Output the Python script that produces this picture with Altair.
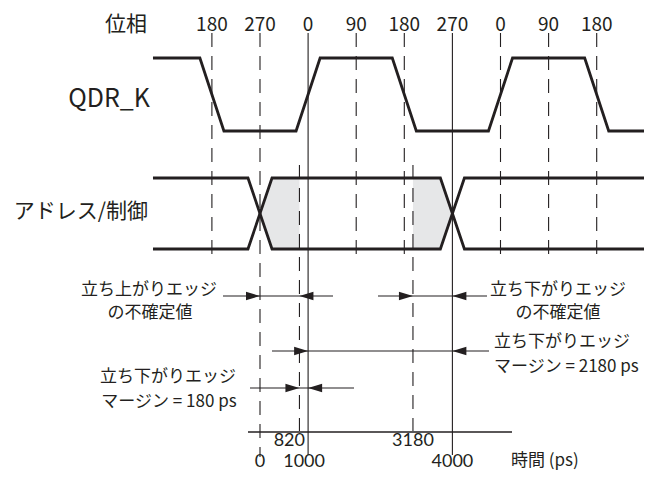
import altair as alt
import pandas as pd

INK = "#231f20"
SHADE = "#e6e7e8"
FONT = "Noto Sans CJK JP"
NUM_FONT = "Lato"

# ---------------- data ----------------
# phase grid (clock phase of QDR_K vs time in ps)
phase_times = [-1000, 0, 1000, 2000, 3000, 4000, 5000, 6000, 7000]
phase_labels = ["180", "270", "0", "90", "180", "270", "0", "90", "180"]
phase_solid = [False, False, True, False, False, True, False, False, False]
phase_line_end = [262, 457, 455, 262, 262, 455, 262, 262, 262]

# uncertainty window boundaries (ps)
marker_times = [820, 3180]

# QDR_K clock waveform (ps, level)
qdr_times = [-2225, -1250, -750, 750, 1250, 2750, 3250, 4750, 5250, 6750, 7250, 8150]
qdr_levels = [1, 1, 0, 0, 1, 1, 0, 0, 1, 1, 0, 0]

# address/control bus waveform (two crossing lines)
addr_times = [-2225, -250, 250, 3750, 4250, 8150]
addr_a_levels = [1, 1, 0, 0, 1, 1]
addr_b_levels = [0, 0, 1, 1, 0, 0]

# shaded uncertain regions
shade_left_times = [0, 250, 820]
shade_left_open = [0, 1, 1]
shade_right_times = [3180, 3750, 4000]
shade_right_open = [1, 1, 0]

# time axis labels
time_labels = ["820", "3180", "0", "1000", "4000"]
time_label_t = [1000, 3180, 0, 1000, 4000]

# ---------------- layout ----------------
PX_PER_PS = 0.0481          # 48.1 px per 1000 ps
T0_X = 260                  # page x of t = 0
W, H = 636, 466


def t_of(px):
    return (px - T0_X) / PX_PER_PS


T_MIN, T_MAX = t_of(8), t_of(8 + W)
Y_DOM = [8, 8 + H]

QDR_HIGH, QDR_LOW = 58, 131
ADDR_HIGH, ADDR_LOW = 178, 249
ADDR_MID = (ADDR_HIGH + ADDR_LOW) / 2


def X(f):
    return alt.X(f, type="quantitative", axis=None,
                 scale=alt.Scale(domain=[T_MIN, T_MAX], nice=False, zero=False))


def Y(f):
    return alt.Y(f, type="quantitative", axis=None,
                 scale=alt.Scale(domain=Y_DOM, nice=False, zero=False, reverse=True))


# waveforms
wave_rows = []
for i, (t, l) in enumerate(zip(qdr_times, qdr_levels)):
    wave_rows.append({"s": "qdr", "t": t, "y": QDR_HIGH if l else QDR_LOW, "o": i})
for i, (t, l) in enumerate(zip(addr_times, addr_a_levels)):
    wave_rows.append({"s": "a", "t": t, "y": ADDR_HIGH if l else ADDR_LOW, "o": i})
for i, (t, l) in enumerate(zip(addr_times, addr_b_levels)):
    wave_rows.append({"s": "b", "t": t, "y": ADDR_HIGH if l else ADDR_LOW, "o": i})
wave_df = pd.DataFrame(wave_rows)

shade_rows = []
for g, ts, op in (("L", shade_left_times, shade_left_open), ("R", shade_right_times, shade_right_open)):
    for t, o in zip(ts, op):
        shade_rows.append({"g": g, "t": t,
                           "y1": ADDR_HIGH if o else ADDR_MID,
                           "y2": ADDR_LOW if o else ADDR_MID})
shade_df = pd.DataFrame(shade_rows)

phase_df = pd.DataFrame({"t": phase_times, "label": phase_labels, "solid": phase_solid,
                         "y1": [33] * len(phase_times), "y2": phase_line_end})
marker_df = pd.DataFrame({"t": marker_times, "y1": [165, 165], "y2": [431, 431]})
axis_df = pd.DataFrame({"t1": [t_of(248)], "t2": [t_of(512)], "y": [432]})

# dimension arrows: y, line start, line end, right-pointing tip, left-pointing tip
arrow_rows = [
    (296, t_of(223), t_of(333), 0, 820),
    (296, t_of(378), t_of(487), 3180, 4000),
    (351, t_of(272), t_of(489), 1000, 4000),
    (388, t_of(250), t_of(354), 820, 1000),
]
HEAD = 14  # px
head_off = HEAD / 2 / PX_PER_PS
arrow_line_df = pd.DataFrame([{"y": r[0], "t1": r[1], "t2": r[2]} for r in arrow_rows])
head_r_df = pd.DataFrame([{"y": r[0], "t": r[3] - head_off} for r in arrow_rows])
head_l_df = pd.DataFrame([{"y": r[0], "t": r[4] + head_off} for r in arrow_rows])

# text
center_txt = [
    ("位相", t_of(126), 25, 21),
    ("立ち上がりエッジ", t_of(149), 290, 17),
    ("の不確定値", t_of(150), 313, 17),
    ("立ち下がりエッジ", t_of(558), 290, 17),
    ("の不確定値", t_of(558), 313, 17),
    ("立ち下がりエッジ", t_of(168), 377, 17),
    ("マージン = 180 ps", t_of(169), 402, 17),
]
for lab, t in zip(phase_labels, phase_times):
    center_txt.append((lab, t, 25, 19))
num_center = []
for lab, t in zip(time_labels[1:], time_label_t[1:]):
    yy = 441 if lab == "3180" else 462
    xx = t if lab != "1000" else t - 4 / PX_PER_PS
    num_center.append((lab, xx, yy, 18))
num_right = [(time_labels[0], t_of(305), 441, 18)]
right_txt = [
    ("QDR_K", t_of(150), 99, 25),
    ("アドレス/制御", t_of(148), 212, 21),
]
left_txt = [
    ("立ち下がりエッジ", t_of(494), 342, 17),
    ("マージン = 2180 ps", t_of(494), 367, 17),
    ("時間 (ps)", t_of(511), 461, 17),
]


def tdf(rows):
    return pd.DataFrame([{"text": r[0], "t": r[1], "y": r[2], "size": r[3]} for r in rows])


# ---------------- layers ----------------
dash_lines = alt.Chart(phase_df[~phase_df.solid]).mark_rule(
    color=INK, strokeWidth=1.1, strokeDash=[14, 9]).encode(x=X("t"), y=Y("y1"), y2="y2")
solid_lines = alt.Chart(phase_df[phase_df.solid]).mark_rule(
    color=INK, strokeWidth=1.1).encode(x=X("t"), y=Y("y1"), y2="y2")
marker_lines = alt.Chart(marker_df).mark_rule(
    color=INK, strokeWidth=1.1, strokeDash=[14, 9]).encode(x=X("t"), y=Y("y1"), y2="y2")
axis_line = alt.Chart(axis_df).mark_rule(color=INK, strokeWidth=1.3).encode(
    x=X("t1"), x2="t2", y=Y("y"))

shade = alt.Chart(shade_df).mark_area(color=SHADE, opacity=1).encode(
    x=X("t"), y=Y("y1"), y2="y2", detail="g:N")

waves = alt.Chart(wave_df).mark_line(color=INK, strokeWidth=2.8, clip=True,
                                     strokeJoin="miter").encode(
    x=X("t"), y=Y("y"), detail="s:N", order="o:Q")

arrow_lines = alt.Chart(arrow_line_df).mark_rule(color=INK, strokeWidth=1.2).encode(
    x=X("t1"), x2="t2", y=Y("y"))
heads_r = alt.Chart(head_r_df).mark_point(
    shape="M1,0L-1,-0.62L-1,0.62Z", size=HEAD * HEAD, filled=True, color=INK, opacity=1,
    strokeWidth=0).encode(x=X("t"), y=Y("y"))
heads_l = alt.Chart(head_l_df).mark_point(
    shape="M-1,0L1,-0.62L1,0.62Z", size=HEAD * HEAD, filled=True, color=INK, opacity=1,
    strokeWidth=0).encode(x=X("t"), y=Y("y"))


def text_layer(rows, align, font=FONT):
    return alt.Chart(tdf(rows)).mark_text(
        align=align, baseline="middle", font=font, color=INK).encode(
        x=X("t"), y=Y("y"), text="text:N", size=alt.Size("size:Q", scale=None))


chart = alt.layer(
    shade, dash_lines, solid_lines, marker_lines, axis_line, waves,
    arrow_lines, heads_r, heads_l,
    text_layer(center_txt, "center"), text_layer(right_txt, "right"),
    text_layer(left_txt, "left"),
    text_layer(num_center, "center", NUM_FONT), text_layer(num_right, "right", NUM_FONT),
).properties(
    width=W, height=H, padding=0, autosize=alt.AutoSizeParams(type="none"),
    background="white",
).configure_view(strokeWidth=0)

chart.save("out.html", embed_options={"renderer": "svg", "actions": False})
